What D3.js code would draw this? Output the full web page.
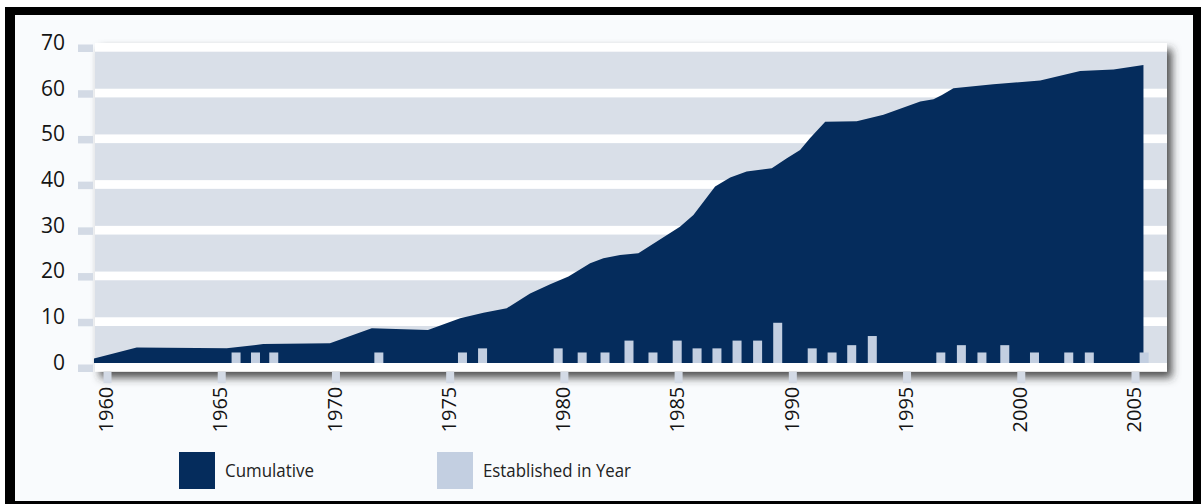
<!DOCTYPE html>
<html>
<head>
<meta charset="utf-8">
<script src="https://cdn.jsdelivr.net/npm/d3@7/dist/d3.min.js"></script>
<style>
  html, body { margin: 0; padding: 0; background: #fff; }
  svg { display: block; }
  text { font-family: "Open Sans", "Noto Sans", sans-serif; }
</style>
</head>
<body>
<div id="chart"></div>
<script>
// Cumulative total, read at the corners of the area outline
const cumYears = [1959.43, 1961.3, 1965.24, 1966.84, 1969.76, 1971.59, 1974.05, 1975.46, 1976.48, 1977.5,
  1978.52, 1979.4, 1980.2, 1981.15, 1981.73, 1982.46, 1983.26, 1985.08, 1985.67, 1986.62,
  1987.28, 1988.0, 1989.1, 1989.76, 1990.34, 1990.78, 1991.44, 1992.82, 1993.99, 1995.6,
  1996.18, 1996.55, 1997.05, 1998.8, 2000.85, 2002.6, 2004.06, 2005.37];
const cumValues = [1.0, 3.4, 3.2, 4.15, 4.3, 7.6, 7.2, 9.8, 11.0, 12.0,
  15.2, 17.2, 18.9, 21.8, 22.9, 23.6, 24.0, 29.8, 32.4, 38.6,
  40.6, 41.9, 42.6, 44.8, 46.6, 49.2, 52.8, 52.9, 54.3, 57.2,
  57.7, 58.6, 60.1, 61.0, 61.8, 63.9, 64.2, 65.2];

// Established in year (bars sit where they are drawn on the year axis)
const barYears = [1965.65, 1966.5, 1967.3, 1971.9, 1975.56, 1976.44, 1979.75, 1980.8, 1981.8, 1982.85,
  1983.9, 1984.96, 1985.83, 1986.7, 1987.58, 1988.48, 1989.36, 1990.87, 1991.74, 1992.6,
  1993.5, 1996.5, 1997.4, 1998.3, 1999.3, 2000.6, 2002.1, 2003.0, 2005.4];
const barValues = [2.3, 2.3, 2.3, 2.3, 2.3, 3.2, 3.2, 2.3, 2.3, 4.9,
  2.3, 4.9, 3.2, 3.2, 4.9, 4.9, 8.8, 3.2, 2.3, 3.9,
  5.9, 2.3, 3.9, 2.3, 3.9, 2.3, 2.3, 2.3, 2.3];

const yTicks = [0, 10, 20, 30, 40, 50, 60, 70];
const xTicks = [1960, 1965, 1970, 1975, 1980, 1985, 1990, 1995, 2000, 2005];
const legendLabels = ['Cumulative', 'Established in Year'];

const W = 1201, H = 504;
const navy = '#052c5c', pale = '#c3cfe1', band = '#d9dfe8', tickGrey = '#d3dae5';
const plotLeft = 95, plotRight = 1167, gap = 8.7;

const x = d3.scaleLinear().domain([1960, 2005]).range([107, 1135]);
const y = d3.scaleLinear().domain([0, 70]).range([363, 43]);

const svg = d3.select('#chart').append('svg')
  .attr('width', W).attr('height', H);

// drop shadow for the plot panel
const defs = svg.append('defs');
defs.append('filter').attr('id', 'shadow')
  .attr('x', '-5%').attr('y', '-5%').attr('width', '110%').attr('height', '125%')
  .append('feDropShadow')
  .attr('dx', 5).attr('dy', 6).attr('stdDeviation', 4)
  .attr('flood-color', '#333').attr('flood-opacity', 0.85);

// black frame
svg.append('rect').attr('x', 5).attr('y', 7).attr('width', W - 5).attr('height', H - 7).attr('fill', '#000');
svg.append('rect').attr('x', 15).attr('y', 15).attr('width', 1178).attr('height', 486).attr('fill', '#f9fbfd');

// plot panel: white with grey bands between the gridlines
svg.append('rect')
  .attr('x', plotLeft).attr('y', y(70)).attr('width', plotRight - plotLeft).attr('height', y(0) + gap - y(70))
  .attr('fill', '#fff').attr('filter', 'url(#shadow)');

svg.append('g').selectAll('rect')
  .data(yTicks.slice(0, -1))
  .join('rect')
  .attr('x', plotLeft)
  .attr('width', plotRight - plotLeft)
  .attr('y', d => y(d + 10) + gap)
  .attr('height', d => y(d) - y(d + 10) - gap)
  .attr('fill', band);

// cumulative area
const area = d3.area()
  .x(d => x(d[0]))
  .y0(y(0))
  .y1(d => y(d[1]));

svg.append('path')
  .datum(d3.zip(cumYears, cumValues))
  .attr('d', area)
  .attr('fill', navy);

// established-in-year bars
svg.append('g').selectAll('rect')
  .data(d3.zip(barYears, barValues))
  .join('rect')
  .attr('x', d => x(d[0]) - 4.5)
  .attr('width', 9)
  .attr('y', d => y(d[1]))
  .attr('height', d => y(0) - y(d[1]))
  .attr('fill', pale);

// y axis
const yAxis = svg.append('g')
  .attr('transform', `translate(${plotLeft},0)`)
  .call(d3.axisLeft(y).tickValues(yTicks).tickSize(0).tickPadding(30));
yAxis.select('.domain').remove();
yAxis.selectAll('.tick text')
  .attr('font-size', 21).attr('fill', '#141414').attr('font-family', '"Open Sans", sans-serif')
  .attr('dy', '0.3em');
yAxis.selectAll('.tick').append('rect')
  .attr('x', -17).attr('y', 1).attr('width', 15).attr('height', 7.5)
  .attr('fill', tickGrey);

// x axis
const xAxis = svg.append('g')
  .attr('transform', `translate(0,${y(0) + gap})`)
  .call(d3.axisBottom(x).tickValues(xTicks).tickFormat(d3.format('d')).tickSize(0));
xAxis.select('.domain').remove();
xAxis.selectAll('.tick').append('rect')
  .attr('x', -4).attr('y', 0).attr('width', 8).attr('height', 11.5)
  .attr('fill', tickGrey);
xAxis.selectAll('.tick text')
  .attr('font-size', 20).attr('fill', '#141414').attr('font-family', '"Open Sans", sans-serif')
  .attr('transform', 'rotate(-90)')
  .attr('text-anchor', 'end')
  .attr('x', -15).attr('y', -1.5).attr('dy', '0.36em');

// legend
const legend = svg.append('g');
const legendX = [179, 437];
const legendColors = [navy, pale];
const textLen = [89, 148];
legendLabels.forEach((label, i) => {
  legend.append('rect')
    .attr('x', legendX[i]).attr('y', 452).attr('width', 36).attr('height', 37)
    .attr('fill', legendColors[i]);
  legend.append('text')
    .attr('x', legendX[i] + 46).attr('y', 470).attr('dy', '0.36em')
    .attr('font-size', 19).attr('fill', '#222')
    .attr('textLength', textLen[i]).attr('lengthAdjust', 'spacingAndGlyphs')
    .text(label);
});
</script>
</body>
</html>
